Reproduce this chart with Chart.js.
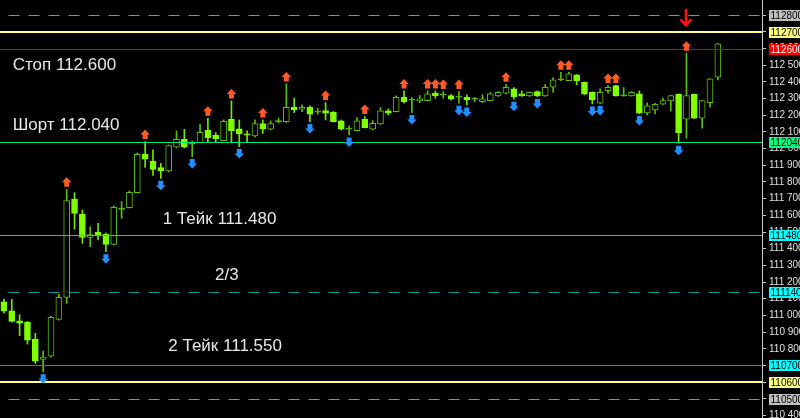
<!DOCTYPE html>
<html>
<head>
<meta charset="utf-8">
<script src="https://cdn.jsdelivr.net/npm/chart.js@4.4.1/dist/chart.umd.min.js"></script>
<style>
  html, body { margin: 0; padding: 0; background: #000; }
  #wrap { width: 800px; height: 418px; }
</style>
</head>
<body>
<div id="wrap"><canvas id="chart" width="800" height="418"></canvas></div>
<script>
// OHLC per bar (left to right)
const OPEN = [111.082, 111.028, 110.968, 110.958, 110.856, 110.736, 110.756, 110.976, 111.108, 111.698,
  111.608, 111.468, 111.498, 111.488, 111.426, 111.636, 111.646, 111.736, 111.966, 111.926,
  111.886, 111.866, 112.008, 112.056, 112.026, 112.036, 112.110, 112.080, 112.048, 112.176,
  112.118, 112.088, 112.076, 112.150, 112.116, 112.162, 112.162, 112.247, 112.236, 112.248,
  112.218, 112.228, 112.218, 112.166, 112.116, 112.108, 112.176, 112.116, 112.148, 112.226,
  112.222, 112.308, 112.290, 112.286, 112.288, 112.332, 112.322, 112.318, 112.308, 112.308,
  112.297, 112.282, 112.288, 112.316, 112.332, 112.358, 112.328, 112.316, 112.342, 112.316,
  112.368, 112.412, 112.408, 112.442, 112.398, 112.338, 112.272, 112.348, 112.378, 112.316,
  112.316, 112.328, 112.214, 112.232, 112.266, 112.286, 112.326, 112.176, 112.326, 112.182,
  112.276, 112.428];
const HIGH = [111.098, 111.096, 111.004, 110.964, 110.892, 110.786, 110.996, 111.126, 111.756, 111.736,
  111.632, 111.532, 111.552, 111.494, 111.656, 111.682, 111.746, 111.974, 112.042, 111.992,
  111.912, 112.022, 112.106, 112.116, 112.046, 112.146, 112.182, 112.096, 112.172, 112.286,
  112.172, 112.106, 112.172, 112.172, 112.166, 112.182, 112.388, 112.302, 112.262, 112.256,
  112.242, 112.276, 112.223, 112.172, 112.136, 112.186, 112.192, 112.168, 112.246, 112.238,
  112.316, 112.346, 112.306, 112.318, 112.346, 112.346, 112.342, 112.324, 112.342, 112.322,
  112.306, 112.322, 112.336, 112.342, 112.386, 112.366, 112.346, 112.340, 112.346, 112.384,
  112.426, 112.458, 112.458, 112.444, 112.400, 112.340, 112.358, 112.378, 112.379, 112.366,
  112.342, 112.346, 112.274, 112.272, 112.302, 112.320, 112.328, 112.572, 112.328, 112.290,
  112.420, 112.631];
const LOW = [111.014, 110.960, 110.878, 110.828, 110.712, 110.662, 110.750, 110.972, 111.072, 111.518,
  111.432, 111.412, 111.452, 111.382, 111.422, 111.582, 111.644, 111.734, 111.888, 111.840,
  111.822, 111.860, 112.004, 112.004, 111.952, 112.034, 112.042, 112.040, 112.046, 112.036,
  112.012, 112.036, 112.070, 112.092, 112.112, 112.154, 112.157, 112.216, 112.222, 112.162,
  112.206, 112.172, 112.160, 112.112, 112.082, 112.106, 112.124, 112.112, 112.145, 112.202,
  112.220, 112.272, 112.216, 112.276, 112.286, 112.302, 112.302, 112.292, 112.272, 112.262,
  112.282, 112.276, 112.286, 112.313, 112.328, 112.296, 112.313, 112.313, 112.312, 112.313,
  112.338, 112.408, 112.406, 112.382, 112.324, 112.268, 112.270, 112.332, 112.314, 112.314,
  112.314, 112.210, 112.202, 112.208, 112.265, 112.226, 112.032, 112.062, 112.180, 112.122,
  112.248, 112.412];
const CLOSE = [111.026, 110.964, 110.954, 110.852, 110.726, 110.750, 110.988, 111.108, 111.688, 111.612,
  111.468, 111.484, 111.484, 111.426, 111.648, 111.636, 111.738, 111.966, 111.936, 111.876,
  111.866, 112.018, 112.056, 112.008, 112.026, 112.098, 112.066, 112.060, 112.164, 112.108,
  112.088, 112.080, 112.150, 112.118, 112.150, 112.162, 112.247, 112.232, 112.248, 112.206,
  112.218, 112.212, 112.162, 112.116, 112.116, 112.166, 112.126, 112.152, 112.226, 112.212,
  112.308, 112.282, 112.290, 112.298, 112.328, 112.318, 112.322, 112.296, 112.308, 112.292,
  112.297, 112.298, 112.328, 112.338, 112.368, 112.312, 112.316, 112.338, 112.316, 112.368,
  112.412, 112.412, 112.448, 112.408, 112.326, 112.292, 112.338, 112.368, 112.316, 112.316,
  112.338, 112.212, 112.256, 112.266, 112.288, 112.318, 112.096, 112.318, 112.182, 112.288,
  112.418, 112.628];

// bars carrying fractal arrows
const UP_ARROWS = [8, 18, 26, 29, 33, 36, 41, 46, 51, 54, 55, 56, 58, 64, 71, 72, 77, 78, 87];
const DOWN_ARROWS = [5, 13, 20, 24, 30, 39, 44, 52, 58, 59, 65, 68, 75, 76, 81, 86];

// horizontal levels and their axis tags
const LEVEL_PRICES = [112.8, 112.7, 112.6, 112.04, 111.48, 111.14, 110.7, 110.6, 110.5];
const LEVEL_TAGS = ['112800', '112700', '112600', '112040', '111480', '111140', '110700', '110600', '110500'];

// text objects: text, anchor bar, anchor price (baseline)
const NOTE_TEXTS = ['Стоп 112.600', 'Шорт 112.040', '1 Тейк 111.480', '2/3', '2 Тейк 111.550'];
const NOTE_BARS = [1.12, 1.12, 20.24, 26.9, 20.95];
const NOTE_PRICES = [112.472, 112.112, 111.546, 111.212, 110.786];

const SELL_BAR = 87;
const SELL_PRICE = 112.736;

const Y_TICKS = [110.4, 110.5, 110.6, 110.7, 110.8, 110.9, 111.0, 111.1, 111.2, 111.3, 111.4, 111.5,
  111.6, 111.7, 111.8, 111.9, 112.0, 112.1, 112.2, 112.3, 112.4, 112.5, 112.6, 112.7, 112.8];

// styles
const BEAR_FILL = '#80ff00';
const BEAR_WICK = '#74e800';
const BULL_LINE = '#5cbf00';
const UP_COLOR = '#ff5a24';
const DOWN_COLOR = '#1e90ff';
const LEVEL_STYLE = [
  { color: '#8c8c8c', width: 1, dash: [11, 9], box: '#c0c0c0', text: '#000' },
  { color: '#ffff88', width: 2, dash: [], box: '#ffff80', text: '#000' },
  { color: '#e00000', width: 1, dash: [], box: '#ff0000', text: '#fff' },
  { color: '#00e878', width: 1, dash: [], box: '#00ff80', text: '#000' },
  { color: '#00c8c8', width: 1, dash: [], box: '#00ffff', text: '#000' },
  { color: '#0a9a9a', width: 1, dash: [11, 9], box: '#00ffff', text: '#000' },
  { color: '#0a9a9a', width: 1, dash: [], box: '#00ffff', text: '#000' },
  { color: '#ffff88', width: 2, dash: [], box: '#ffff80', text: '#000' },
  { color: '#8c8c8c', width: 1, dash: [11, 9], box: '#c0c0c0', text: '#000' }
];

const isBear = i => CLOSE[i] < OPEN[i];

function fmtTick(v) {
  const t = Math.round(v * 1000);
  return Math.floor(t / 1000) + ' ' + String(t % 1000).padStart(3, '0');
}

function arrowUp(ctx, cx, b) {
  ctx.beginPath();
  ctx.moveTo(cx - 2.5, b); ctx.lineTo(cx + 2.5, b); ctx.lineTo(cx + 2.5, b - 4.5);
  ctx.lineTo(cx + 4.8, b - 4.5); ctx.lineTo(cx, b - 9.5); ctx.lineTo(cx - 4.8, b - 4.5);
  ctx.lineTo(cx - 2.5, b - 4.5); ctx.closePath(); ctx.fill();
}
function arrowDown(ctx, cx, t) {
  ctx.beginPath();
  ctx.moveTo(cx - 2.5, t); ctx.lineTo(cx + 2.5, t); ctx.lineTo(cx + 2.5, t + 4.5);
  ctx.lineTo(cx + 4.8, t + 4.5); ctx.lineTo(cx, t + 9.5); ctx.lineTo(cx - 4.8, t + 4.5);
  ctx.lineTo(cx - 2.5, t + 4.5); ctx.closePath(); ctx.fill();
}

const overlay = {
  id: 'overlay',
  afterDatasetsDraw(chart) {
    const { ctx, chartArea, scales: { x, y } } = chart;
    ctx.save();

    // levels
    LEVEL_PRICES.forEach((p, k) => {
      const st = LEVEL_STYLE[k];
      const py = Math.round(y.getPixelForValue(p)) + (st.width % 2 ? 0.5 : 0);
      ctx.strokeStyle = st.color;
      ctx.lineWidth = st.width;
      ctx.setLineDash(st.dash);
      ctx.lineDashOffset = 11.5;
      ctx.beginPath();
      ctx.moveTo(chartArea.left, py);
      ctx.lineTo(chartArea.right, py);
      ctx.stroke();
    });
    ctx.setLineDash([]);

    // fractals
    ctx.fillStyle = UP_COLOR;
    UP_ARROWS.forEach(i => arrowUp(ctx, x.getPixelForValue(i), y.getPixelForValue(HIGH[i]) - 2.5));
    ctx.fillStyle = DOWN_COLOR;
    DOWN_ARROWS.forEach(i => arrowDown(ctx, x.getPixelForValue(i), y.getPixelForValue(LOW[i]) + 2.5));

    // sell arrow
    const sx = x.getPixelForValue(SELL_BAR) - 0.5;
    const sy = y.getPixelForValue(SELL_PRICE);
    ctx.strokeStyle = '#ff1010';
    ctx.lineWidth = 2.5;
    ctx.beginPath();
    ctx.moveTo(sx, sy - 17); ctx.lineTo(sx, sy - 1);
    ctx.moveTo(sx - 5.5, sy - 6.5); ctx.lineTo(sx, sy - 0.5); ctx.lineTo(sx + 5.5, sy - 6.5);
    ctx.stroke();

    // text objects
    ctx.fillStyle = '#e8e8e8';
    ctx.font = '17px "Liberation Sans", Arial, sans-serif';
    ctx.textBaseline = 'alphabetic';
    ctx.textAlign = 'left';
    NOTE_TEXTS.forEach((t, k) => {
      ctx.fillText(t, x.getPixelForValue(NOTE_BARS[k]), y.getPixelForValue(NOTE_PRICES[k]));
    });
    ctx.restore();
  },
  afterDraw(chart) {
    const { ctx, chartArea, scales: { y } } = chart;
    ctx.save();
    ctx.font = '10px "Liberation Sans", Arial, sans-serif';
    ctx.textBaseline = 'middle';
    ctx.textAlign = 'left';
    LEVEL_PRICES.forEach((p, k) => {
      const st = LEVEL_STYLE[k];
      const py = y.getPixelForValue(p);
      ctx.fillStyle = st.box;
      ctx.fillRect(chartArea.right + 7, Math.round(py) - 5, 40, 11);
      ctx.fillStyle = st.text;
      ctx.fillText(LEVEL_TAGS[k], chartArea.right + 8.5, Math.round(py) + 1);
    });
    ctx.restore();
  }
};

const ctx = document.getElementById('chart').getContext('2d');
new Chart(ctx, {
  type: 'bar',
  data: {
    datasets: [
      {
        label: 'body',
        order: 0,
        grouped: false,
        barThickness: 6,
        minBarLength: 1,
        borderWidth: 1,
        borderSkipped: false,
        data: OPEN.map((o, i) => ({ x: i, y: [o, CLOSE[i]] })),
        backgroundColor: OPEN.map((o, i) => isBear(i) ? BEAR_FILL : (CLOSE[i] === o ? BULL_LINE : '#000')),
        borderColor: OPEN.map((o, i) => isBear(i) ? BEAR_FILL : BULL_LINE)
      },
      {
        label: 'wick',
        order: 1,
        grouped: false,
        barThickness: 1,
        borderWidth: 0,
        data: LOW.map((l, i) => ({ x: i, y: [l, HIGH[i]] })),
        backgroundColor: LOW.map((l, i) => isBear(i) ? BEAR_WICK : BULL_LINE)
      }
    ]
  },
  options: {
    responsive: false,
    animation: false,
    layout: { padding: 0 },
    plugins: { legend: { display: false }, tooltip: { enabled: false } },
    scales: {
      x: { type: 'linear', min: -0.5, max: 96.63, offset: false, display: false },
      y: {
        type: 'linear',
        position: 'right',
        min: 110.385,
        max: 112.891,
        afterBuildTicks: s => { s.ticks = Y_TICKS.map(v => ({ value: v })); },
        afterFit: s => { s.width = 38; s.paddingTop = 0; s.paddingBottom = 0; },
        grid: { drawOnChartArea: false, drawTicks: true, tickLength: 4, color: '#c8c8c8' },
        border: { display: true, color: '#c8c8c8' },
        ticks: {
          autoSkip: false,
          padding: 3,
          color: '#e0e0e0',
          font: { family: '"Liberation Sans", Arial, sans-serif', size: 10 },
          callback: v => fmtTick(v)
        }
      }
    }
  },
  plugins: [overlay]
});
</script>
</body>
</html>
